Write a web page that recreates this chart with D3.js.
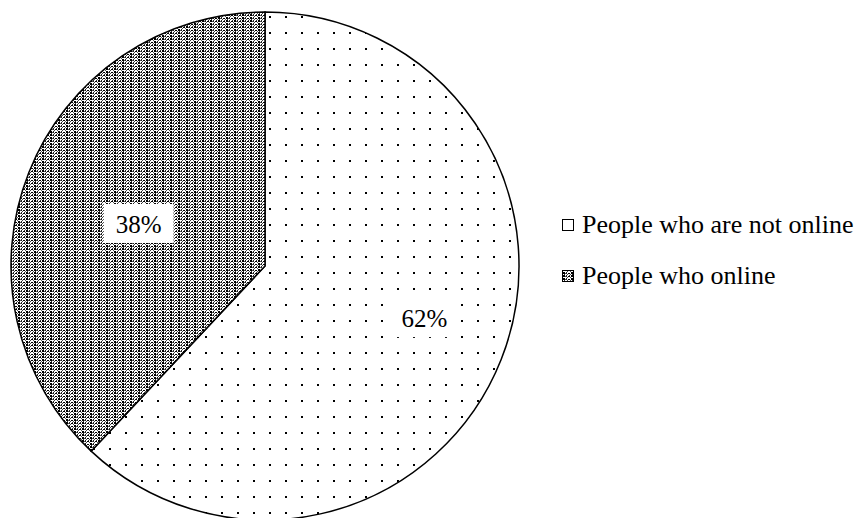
<!DOCTYPE html>
<html>
<head>
<meta charset="utf-8">
<script src="https://cdn.jsdelivr.net/npm/d3@7"></script>
<style>
  body { margin: 0; background: #fff; }
</style>
</head>
<body>
<script>
// chart data
var categories = ["People who are not online", "People who online"];
var shares = [62, 38];
var shareLabels = ["62%", "38%"];

var width = 856, height = 518;
var cx = 265, cy = 266, radius = 254;
var serif = "\"Liberation Serif\", \"Times New Roman\", serif";

// label placement: fraction of radius along mid-angle, plus a small nudge
var labelRadius = [0.675, 0.535];
var labelNudge = [[0, -11], [0, 8]];

var svg = d3.select("body").append("svg")
    .attr("width", width)
    .attr("height", height);

var defs = svg.append("defs");

// sparse dot pattern for the big slice
var dots = defs.append("pattern")
    .attr("id", "dots")
    .attr("patternUnits", "userSpaceOnUse")
    .attr("width", 16)
    .attr("height", 16)
    .attr("x", 4)
    .attr("y", 6);
dots.append("rect").attr("width", 16).attr("height", 16).attr("fill", "#fff");
dots.append("rect").attr("x", 0).attr("y", 0).attr("width", 2).attr("height", 2).attr("fill", "#000");

// dense textured pattern for the small slice
var dense = defs.append("pattern")
    .attr("id", "dense")
    .attr("patternUnits", "userSpaceOnUse")
    .attr("width", 8)
    .attr("height", 6)
    .attr("x", 1)
    .attr("y", 0);
dense.append("rect").attr("width", 8).attr("height", 6).attr("fill", "#fff");
[[0, 0, 2, 2, "#000"], [0, 3, 2, 2, "#000"], [3, 0, 1, 2, "#222"], [3, 3, 1, 2, "#222"],
 [5, 1, 2, 1, "#000"], [5, 4, 2, 1, "#000"], [4, 2, 1, 1, "#444"], [4, 5, 1, 1, "#444"],
 [2, 1, 1, 1, "#555"], [7, 2, 1, 1, "#555"], [2, 4, 1, 1, "#555"], [7, 5, 1, 1, "#555"],
 [1, 5, 1, 1, "#333"], [6, 0, 1, 1, "#333"]].forEach(function(r) {
    dense.append("rect")
        .attr("x", r[0]).attr("y", r[1])
        .attr("width", r[2]).attr("height", r[3])
        .attr("fill", r[4]);
});

var fills = ["url(#dots)", "url(#dense)"];

var pie = d3.pie().sort(null).value(function(d) { return d; });
var arcs = pie(shares);

var arc = d3.arc().innerRadius(0).outerRadius(radius);

var g = svg.append("g")
    .attr("transform", "translate(" + cx + "," + cy + ")");

g.selectAll("path.slice")
    .data(arcs)
    .enter().append("path")
    .attr("class", "slice")
    .attr("d", arc)
    .attr("fill", function(d, i) { return fills[i]; })
    .attr("stroke", "#000")
    .attr("stroke-width", 1.5)
    .attr("stroke-linejoin", "miter");

// slice labels with white boxes
var labels = g.selectAll("g.lbl")
    .data(arcs)
    .enter().append("g")
    .attr("class", "lbl")
    .attr("transform", function(d, i) {
        var a = (d.startAngle + d.endAngle) / 2;
        var r = radius * labelRadius[i];
        var x = Math.sin(a) * r + labelNudge[i][0];
        var y = -Math.cos(a) * r + labelNudge[i][1];
        return "translate(" + x + "," + y + ")";
    });

labels.append("rect")
    .attr("x", -35)
    .attr("y", -20)
    .attr("width", 70)
    .attr("height", 39)
    .attr("fill", "#fff");

labels.append("text")
    .attr("text-anchor", "middle")
    .attr("dy", "0.35em")
    .style("font-family", serif)
    .style("font-size", "25px")
    .text(function(d, i) { return shareLabels[i]; });

// legend
var legend = svg.append("g")
    .attr("transform", "translate(562,0)");

var items = legend.selectAll("g.item")
    .data(categories)
    .enter().append("g")
    .attr("class", "item")
    .attr("transform", function(d, i) { return "translate(0," + (224 + i * 51) + ")"; });

items.append("rect")
    .attr("x", 0.5)
    .attr("y", -4.5)
    .attr("width", 11)
    .attr("height", 11)
    .attr("fill", function(d, i) { return i === 0 ? "#fff" : "url(#dense)"; })
    .attr("stroke", "#000")
    .attr("stroke-width", 1);

items.append("text")
    .attr("x", 20)
    .attr("dy", "0.33em")
    .style("font-family", serif)
    .style("font-size", "26px")
    .text(function(d) { return d; });
</script>
</body>
</html>
